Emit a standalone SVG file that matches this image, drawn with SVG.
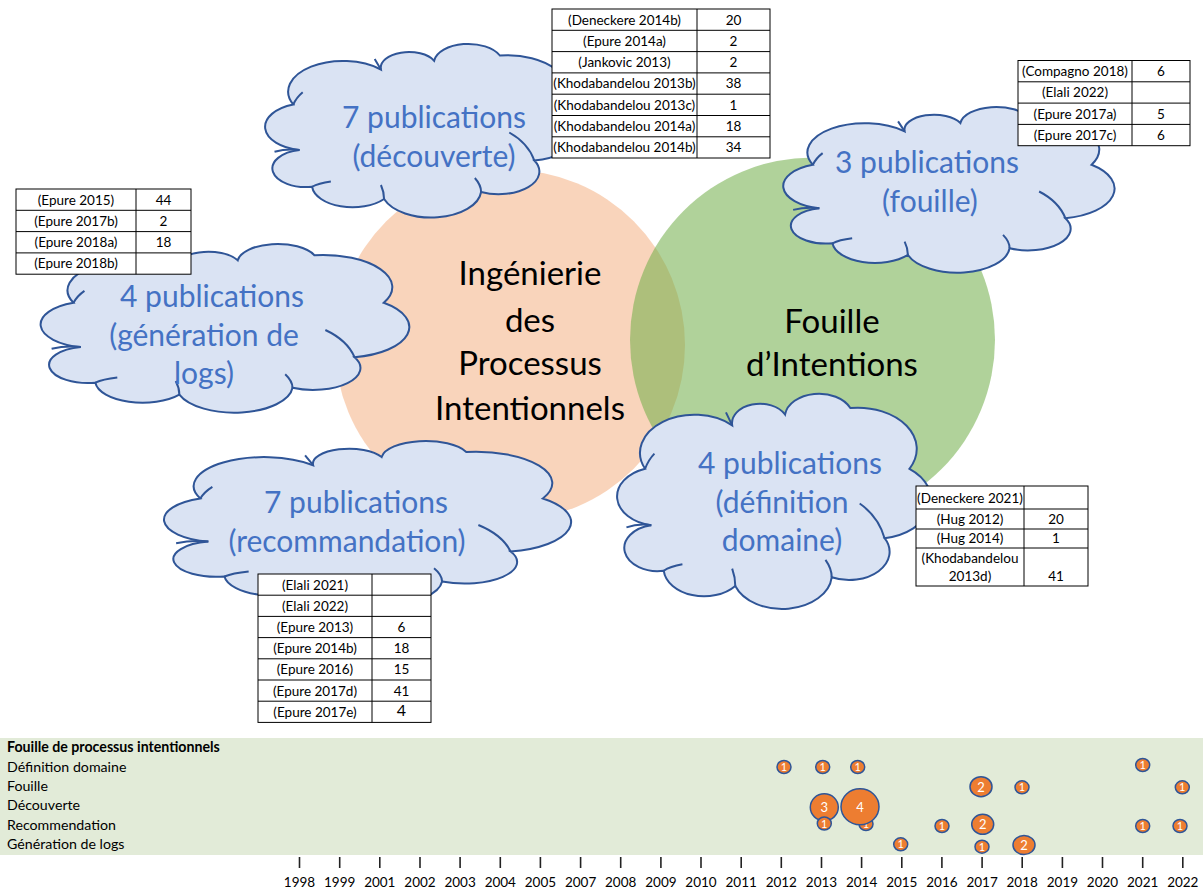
<svg xmlns="http://www.w3.org/2000/svg" xmlns:xlink="http://www.w3.org/1999/xlink" width="1203" height="892" viewBox="0 0 1203 892">
<style>
.big{font-family:Lato,"Liberation Sans",sans-serif;font-size:33px;fill:#000;text-anchor:middle}
.ct{font-family:Lato,"Liberation Sans",sans-serif;font-size:30px;fill:#4472C4;text-anchor:middle}
.tb{fill:#fff;stroke:#000;stroke-width:1}
.tl{stroke:#000;stroke-width:1}
.tt{font-family:Lato,"Liberation Sans",sans-serif;font-size:13.5px;fill:#000;text-anchor:middle}
.lab{font-family:Lato,"Liberation Sans",sans-serif;font-size:14.2px;fill:#000}
.yr{font-family:Lato,"Liberation Sans",sans-serif;font-size:13.5px;fill:#000;text-anchor:middle}
.tick{stroke:#222;stroke-width:1.6}
.bub{fill:#ED7D31;stroke:#2F5597;stroke-width:1.5}
.bt{font-family:Lato,"Liberation Sans",sans-serif;font-size:11px;fill:#fff;text-anchor:middle}
.bt2{font-family:Lato,"Liberation Sans",sans-serif;font-size:13px;fill:#fff;text-anchor:middle}
.cloudfill{fill:#DAE3F3;stroke:#2F5597;stroke-width:2}
.cloudhook{fill:none;stroke:#2F5597;stroke-width:2}
</style>
<defs>
<path id="cloudOut" vector-effect="non-scaling-stroke" d="M10,34 A17.5,17.5 0 0 1 38,14 A9,9 0 0 1 55,9 A11,11 0 0 1 76,6 A19,19 0 0 1 95,34 A18,18 0 0 1 87,66 A13,13 0 0 1 70,84 A16,16 0 0 1 39,88 A13,13 0 0 1 16,81 A10,10 0 0 1 12,60 A13.5,13.5 0 0 1 10,34 Z"/>
<path id="cloudHook" vector-effect="non-scaling-stroke" d="M13,27 Q11,30 10,34 M36,8 Q37,11 38,14 M79,50 Q85,56 87,66 M68,76 Q70,80 70,84 M38,80 Q39,84 39,88 M4,61 Q8,59 12,60 M22,78 Q18,79 16,81"/>
</defs>

<g id="circle-ipi">
<circle cx="510" cy="345" r="175" fill="#F4B183" fill-opacity="0.55"/>
</g>
<g id="circle-fi">
<circle cx="812.5" cy="340" r="182.5" fill="#70AD47" fill-opacity="0.55"/>
</g>
<g id="circle-texts">
<text class="big" x="530" y="285">Ingénierie</text>
<text class="big" x="530" y="332">des</text>
<text class="big" x="530" y="375">Processus</text>
<text class="big" x="530" y="420">Intentionnels</text>
<text class="big" x="832" y="333">Fouille</text>
<text class="big" x="832" y="376">d’Intentions</text>
</g>

<g id="cloud-decouverte">
<g transform="translate(262,45) scale(3.13,1.75)"><use href="#cloudOut" class="cloudfill"/><use href="#cloudHook" class="cloudhook"/></g>
<text class="ct" x="434" y="128">7 publications</text>
<text class="ct" x="434" y="167">(découverte)</text>
</g>
<g id="cloud-fouille">
<g transform="translate(780,108) scale(3.28,1.67)"><use href="#cloudOut" class="cloudfill"/><use href="#cloudHook" class="cloudhook"/></g>
<text class="ct" x="927" y="173">3 publications</text>
<text class="ct" x="930" y="212">(fouille)</text>
</g>
<g id="cloud-generation">
<g transform="translate(37,245) scale(3.65,1.70)"><use href="#cloudOut" class="cloudfill"/><use href="#cloudHook" class="cloudhook"/></g>
<text class="ct" x="212" y="307">4 publications</text>
<text class="ct" x="204" y="346">(génération de</text>
<text class="ct" x="204" y="384">logs)</text>
</g>
<g id="cloud-recommandation">
<g transform="translate(160,442) scale(4.03,1.66)"><use href="#cloudOut" class="cloudfill"/><use href="#cloudHook" class="cloudhook"/></g>
<text class="ct" x="356" y="513">7 publications</text>
<text class="ct" x="347" y="552">(recommandation)</text>
</g>
<g id="cloud-definition">
<g transform="translate(614,395) scale(3.11,2.17)"><use href="#cloudOut" class="cloudfill"/><use href="#cloudHook" class="cloudhook"/></g>
<text class="ct" x="790" y="474">4 publications</text>
<text class="ct" x="782" y="513">(définition</text>
<text class="ct" x="782" y="551">domaine)</text>
</g>

<g id="table-decouverte">
<rect class="tb" x="552" y="9" width="218" height="149"/>
<line class="tl" x1="697" y1="9" x2="697" y2="158"/>
<line class="tl" x1="552" y1="30.3" x2="770" y2="30.3"/>
<line class="tl" x1="552" y1="51.6" x2="770" y2="51.6"/>
<line class="tl" x1="552" y1="72.9" x2="770" y2="72.9"/>
<line class="tl" x1="552" y1="94.2" x2="770" y2="94.2"/>
<line class="tl" x1="552" y1="115.5" x2="770" y2="115.5"/>
<line class="tl" x1="552" y1="136.8" x2="770" y2="136.8"/>
<text class="tt" x="624.5" y="24.5">(Deneckere 2014b)</text><text class="tt" x="733.5" y="24.5">20</text>
<text class="tt" x="624.5" y="45.8">(Epure 2014a)</text><text class="tt" x="733.5" y="45.8">2</text>
<text class="tt" x="624.5" y="67.1">(Jankovic 2013)</text><text class="tt" x="733.5" y="67.1">2</text>
<text class="tt" x="624.5" y="88.4">(Khodabandelou 2013b)</text><text class="tt" x="733.5" y="88.4">38</text>
<text class="tt" x="624.5" y="109.7">(Khodabandelou 2013c)</text><text class="tt" x="733.5" y="109.7">1</text>
<text class="tt" x="624.5" y="131">(Khodabandelou 2014a)</text><text class="tt" x="733.5" y="131">18</text>
<text class="tt" x="624.5" y="152.3">(Khodabandelou 2014b)</text><text class="tt" x="733.5" y="152.3">34</text>
</g>

<g id="table-fouille">
<rect class="tb" x="1018" y="60.5" width="172" height="85.2"/>
<line class="tl" x1="1132" y1="60.5" x2="1132" y2="145.7"/>
<line class="tl" x1="1018" y1="81.8" x2="1190" y2="81.8"/>
<line class="tl" x1="1018" y1="103.1" x2="1190" y2="103.1"/>
<line class="tl" x1="1018" y1="124.4" x2="1190" y2="124.4"/>
<text class="tt" x="1075" y="76">(Compagno 2018)</text><text class="tt" x="1161" y="76">6</text>
<text class="tt" x="1075" y="97.3">(Elali 2022)</text>
<text class="tt" x="1075" y="118.6">(Epure 2017a)</text><text class="tt" x="1161" y="118.6">5</text>
<text class="tt" x="1075" y="139.9">(Epure 2017c)</text><text class="tt" x="1161" y="139.9">6</text>
</g>

<g id="table-generation">
<rect class="tb" x="16" y="189" width="175" height="85.2"/>
<line class="tl" x1="136" y1="189" x2="136" y2="274.2"/>
<line class="tl" x1="16" y1="210.3" x2="191" y2="210.3"/>
<line class="tl" x1="16" y1="231.6" x2="191" y2="231.6"/>
<line class="tl" x1="16" y1="252.9" x2="191" y2="252.9"/>
<text class="tt" x="76" y="204.5">(Epure 2015)</text><text class="tt" x="163.5" y="204.5">44</text>
<text class="tt" x="76" y="225.8">(Epure 2017b)</text><text class="tt" x="163.5" y="225.8">2</text>
<text class="tt" x="76" y="247.1">(Epure 2018a)</text><text class="tt" x="163.5" y="247.1">18</text>
<text class="tt" x="76" y="268.4">(Epure 2018b)</text>
</g>

<g id="table-definition">
<rect class="tb" x="916" y="486" width="172" height="100"/>
<line class="tl" x1="1024" y1="486" x2="1024" y2="586"/>
<line class="tl" x1="916" y1="509" x2="1088" y2="509"/>
<line class="tl" x1="916" y1="529" x2="1088" y2="529"/>
<line class="tl" x1="916" y1="548" x2="1088" y2="548"/>
<text class="tt" x="970" y="502.5">(Deneckere 2021)</text>
<text class="tt" x="970" y="523.5">(Hug 2012)</text><text class="tt" x="1056" y="523.5">20</text>
<text class="tt" x="970" y="543">(Hug 2014)</text><text class="tt" x="1056" y="543">1</text>
<text class="tt" x="970" y="563">(Khodabandelou</text>
<text class="tt" x="970" y="581">2013d)</text><text class="tt" x="1056" y="581">41</text>
</g>

<g id="table-recommandation">
<rect class="tb" x="258" y="574" width="173" height="148.4"/>
<line class="tl" x1="372" y1="574" x2="372" y2="722.4"/>
<line class="tl" x1="258" y1="595.2" x2="431" y2="595.2"/>
<line class="tl" x1="258" y1="616.4" x2="431" y2="616.4"/>
<line class="tl" x1="258" y1="637.6" x2="431" y2="637.6"/>
<line class="tl" x1="258" y1="658.8" x2="431" y2="658.8"/>
<line class="tl" x1="258" y1="680" x2="431" y2="680"/>
<line class="tl" x1="258" y1="701.2" x2="431" y2="701.2"/>
<text class="tt" x="315" y="589.5">(Elali 2021)</text>
<text class="tt" x="315" y="610.7">(Elali 2022)</text>
<text class="tt" x="315" y="631.9">(Epure 2013)</text><text class="tt" x="401.5" y="631.9">6</text>
<text class="tt" x="315" y="653.1">(Epure 2014b)</text><text class="tt" x="401.5" y="653.1">18</text>
<text class="tt" x="315" y="674.3">(Epure 2016)</text><text class="tt" x="401.5" y="674.3">15</text>
<text class="tt" x="315" y="695.5">(Epure 2017d)</text><text class="tt" x="401.5" y="695.5">41</text>
<text class="tt" x="315" y="716.7">(Epure 2017e)</text><text class="tt" x="401.5" y="716" style="font-size:16px">4</text>
</g>

<g id="timeline">
<rect x="0" y="738" width="1203" height="117" fill="#E2EBD8"/>
<text class="lab" x="7" y="752" font-weight="bold">Fouille de processus intentionnels</text>
<text class="lab" x="7" y="771.5">Définition domaine</text>
<text class="lab" x="7" y="790.5">Fouille</text>
<text class="lab" x="7" y="810">Découverte</text>
<text class="lab" x="7" y="829.5">Recommendation</text>
<text class="lab" x="7" y="848.5">Génération de logs</text>
<g id="ticks">
<line class="tick" x1="299.5" y1="857" x2="299.5" y2="868"/><text class="yr" x="299.5" y="887">1998</text>
<line class="tick" x1="339.7" y1="857" x2="339.7" y2="868"/><text class="yr" x="339.7" y="887">1999</text>
<line class="tick" x1="379.8" y1="857" x2="379.8" y2="868"/><text class="yr" x="379.8" y="887">2001</text>
<line class="tick" x1="420" y1="857" x2="420" y2="868"/><text class="yr" x="420" y="887">2002</text>
<line class="tick" x1="460.1" y1="857" x2="460.1" y2="868"/><text class="yr" x="460.1" y="887">2003</text>
<line class="tick" x1="500.3" y1="857" x2="500.3" y2="868"/><text class="yr" x="500.3" y="887">2004</text>
<line class="tick" x1="540.4" y1="857" x2="540.4" y2="868"/><text class="yr" x="540.4" y="887">2005</text>
<line class="tick" x1="580.6" y1="857" x2="580.6" y2="868"/><text class="yr" x="580.6" y="887">2007</text>
<line class="tick" x1="620.7" y1="857" x2="620.7" y2="868"/><text class="yr" x="620.7" y="887">2008</text>
<line class="tick" x1="660.9" y1="857" x2="660.9" y2="868"/><text class="yr" x="660.9" y="887">2009</text>
<line class="tick" x1="701" y1="857" x2="701" y2="868"/><text class="yr" x="701" y="887">2010</text>
<line class="tick" x1="741.2" y1="857" x2="741.2" y2="868"/><text class="yr" x="741.2" y="887">2011</text>
<line class="tick" x1="781.3" y1="857" x2="781.3" y2="868"/><text class="yr" x="781.3" y="887">2012</text>
<line class="tick" x1="821.5" y1="857" x2="821.5" y2="868"/><text class="yr" x="821.5" y="887">2013</text>
<line class="tick" x1="861.6" y1="857" x2="861.6" y2="868"/><text class="yr" x="861.6" y="887">2014</text>
<line class="tick" x1="901.8" y1="857" x2="901.8" y2="868"/><text class="yr" x="901.8" y="887">2015</text>
<line class="tick" x1="941.9" y1="857" x2="941.9" y2="868"/><text class="yr" x="941.9" y="887">2016</text>
<line class="tick" x1="982.1" y1="857" x2="982.1" y2="868"/><text class="yr" x="982.1" y="887">2017</text>
<line class="tick" x1="1022.2" y1="857" x2="1022.2" y2="868"/><text class="yr" x="1022.2" y="887">2018</text>
<line class="tick" x1="1062.4" y1="857" x2="1062.4" y2="868"/><text class="yr" x="1062.4" y="887">2019</text>
<line class="tick" x1="1102.5" y1="857" x2="1102.5" y2="868"/><text class="yr" x="1102.5" y="887">2020</text>
<line class="tick" x1="1142.7" y1="857" x2="1142.7" y2="868"/><text class="yr" x="1142.7" y="887">2021</text>
<line class="tick" x1="1182.8" y1="857" x2="1182.8" y2="868"/><text class="yr" x="1182.8" y="887">2022</text>
</g>
<g id="bubbles">
<ellipse class="bub" cx="784" cy="767" rx="7" ry="6.5"/><text class="bt" x="784" y="771">1</text>
<ellipse class="bub" cx="822.7" cy="767" rx="7" ry="6.5"/><text class="bt" x="822.7" y="771">1</text>
<ellipse class="bub" cx="857.7" cy="767" rx="7" ry="6.5"/><text class="bt" x="857.7" y="771">1</text>
<ellipse class="bub" cx="1142.7" cy="765" rx="7" ry="6.5"/><text class="bt" x="1142.7" y="769">1</text>
<ellipse class="bub" cx="981" cy="786.7" rx="11" ry="10"/><text class="bt2" x="981" y="791.5">2</text>
<ellipse class="bub" cx="1022" cy="787.3" rx="7" ry="6.5"/><text class="bt" x="1022" y="791.3">1</text>
<ellipse class="bub" cx="1182.3" cy="787.3" rx="7" ry="6.5"/><text class="bt" x="1182.3" y="791.3">1</text>
<ellipse class="bub" cx="866" cy="824" rx="7" ry="6.5"/><text class="bt" x="866" y="828">1</text>
<ellipse class="bub" cx="860" cy="806.7" rx="19" ry="18"/><text class="bt2" x="860" y="811.5">4</text>
<ellipse class="bub" cx="824.3" cy="807.3" rx="14" ry="13.5"/><text class="bt2" x="824.3" y="812">3</text>
<ellipse class="bub" cx="824.3" cy="823.5" rx="7" ry="6.5"/><text class="bt" x="824.3" y="827.5">1</text>
<ellipse class="bub" cx="942" cy="826" rx="7" ry="6.5"/><text class="bt" x="942" y="830">1</text>
<ellipse class="bub" cx="982.7" cy="824.3" rx="11" ry="10"/><text class="bt2" x="982.7" y="829">2</text>
<ellipse class="bub" cx="1142.7" cy="826" rx="7" ry="6.5"/><text class="bt" x="1142.7" y="830">1</text>
<ellipse class="bub" cx="1180" cy="826" rx="7" ry="6.5"/><text class="bt" x="1180" y="830">1</text>
<ellipse class="bub" cx="900.7" cy="844.3" rx="7" ry="6.5"/><text class="bt" x="900.7" y="848.3">1</text>
<ellipse class="bub" cx="982" cy="846.7" rx="7" ry="6.5"/><text class="bt" x="982" y="850.7">1</text>
<ellipse class="bub" cx="1024" cy="845" rx="11" ry="9.5"/><text class="bt2" x="1024" y="849.5">2</text>
</g>
</g>
</svg>
